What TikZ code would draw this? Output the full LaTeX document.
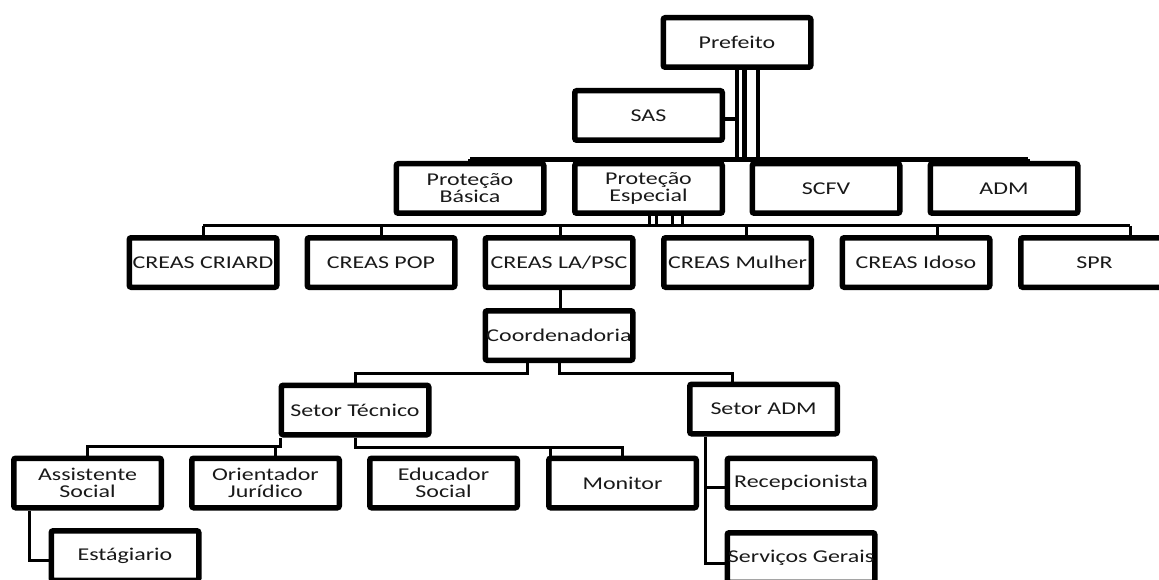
\documentclass[tikz,border=0pt]{standalone}
\usepackage{fontspec}
\setmainfont[FakeStretch=1.33]{Carlito}
\usetikzlibrary{shadows,backgrounds}
\tikzset{
  orgbox/.style={draw=black, line width=5.5pt, fill=white, rounded corners=2pt,
    minimum width=147.5pt, minimum height=49.5pt, inner sep=0pt, align=center,
    font=\fontsize{18}{17}\selectfont, text=black!90,
    drop shadow={opacity=0.18, shadow xshift=1.5pt, shadow yshift=-1.5pt}},
  link/.style={draw=black, line width=3pt},
  biglink/.style={draw=black, line width=4.5pt},
}
\begin{document}
\begin{tikzpicture}[x=1pt, y=-1pt]
\useasboundingbox (0,0) rectangle (1159,580);
% boxes
\node[orgbox] (pref) at (737,42.5) {Prefeito};
\node[orgbox] (sas) at (648.5,115.5) {SAS};
\node[orgbox] (pb) at (470,188.5) {Proteção\\Básica};
\node[orgbox] (pe) at (648.5,188.5) {Proteção\\Especial};
\node[orgbox] (scfv) at (826,188.5) {SCFV};
\node[orgbox] (adm) at (1004,188.5) {ADM};
\node[orgbox] (criard) at (203,262.5) {CREAS CRIARD};
\node[orgbox] (pop) at (381,262.5) {CREAS POP};
\node[orgbox] (la) at (559,262.5) {CREAS LA/PSC};
\node[orgbox] (mulher) at (737.5,262.5) {CREAS Mulher};
\node[orgbox] (idoso) at (916,262.5) {CREAS Idoso};
\node[orgbox] (spr) at (1094.5,262.5) {SPR};
\node[orgbox] (coord) at (559,335.5) {Coordenadoria};
\node[orgbox] (tec) at (355,410) {Setor Técnico};
\node[orgbox] (sadm) at (763.5,409) {Setor ADM};
\node[orgbox] (ass) at (87.5,483) {Assistente\\Social};
\node[orgbox] (ori) at (265.5,483) {Orientador\\Jurídico};
\node[orgbox] (edu) at (443.5,483) {Educador\\Social};
\node[orgbox] (mon) at (622.5,483) {Monitor};
\node[orgbox] (rec) at (801,483) {Recepcionista};
\node[orgbox] (serv) at (801,557.5) {Serviços Gerais};
\node[orgbox] (est) at (125,555.5) {Estágiario};
% connectors
\begin{scope}[on background layer]
  % top bus
  \coordinate (busT1) at (470,159.5);
  \coordinate (busT2) at (1028,159.5);
  \draw[biglink] (busT1) -- (busT2);
  \foreach \dx in {0,7.5,21}{
    \path ([xshift=\dx pt]pref.south) coordinate (t);
    \draw[biglink] (t) -- (t |- busT1);
  }
  \path ([yshift=-3.5pt]sas.east) coordinate (se);
  \draw[biglink] (se) -- (se -| pref.south);
  \foreach \n in {pb,pe,scfv}{
    \draw[biglink] (\n.north |- busT1) -- (\n.north);
  }
  \draw[biglink] (busT2) -- (busT2 |- adm.north);
  % middle bus
  \coordinate (busM1) at (203,226);
  \coordinate (busM2) at (1130,226);
  \draw[link] (busM1) -- (busM2);
  \foreach \dx in {0.5,7.5,23.5,33.5}{
    \path ([xshift=\dx pt]pe.south) coordinate (t);
    \draw[link] (t) -- (t |- busM1);
  }
  \draw[link] (criard.north |- busM1) -- (criard.north);
  \draw[link] (pop.north |- busM1) -- (pop.north);
  \path ([xshift=1pt]la.north) coordinate (t1);
  \draw[link] (t1 |- busM1) -- (t1);
  \path ([xshift=8.5pt]mulher.north) coordinate (t2);
  \draw[link] (t2 |- busM1) -- (t2);
  \path ([xshift=21pt]idoso.north) coordinate (t3);
  \draw[link] (t3 |- busM1) -- (t3);
  \draw[link] (busM2) -- (busM2 |- spr.north);
  % LA/PSC -> Coordenadoria
  \draw[link] ([xshift=1pt]la.south) -- ([xshift=1pt]coord.north);
  % Coordenadoria -> setores
  \coordinate (c1) at (0,373);
  \path ([xshift=-32pt]coord.south) coordinate (a);
  \draw[link] (a) -- (a |- c1) -| (tec.north);
  \draw[link] (coord.south) -- (coord.south |- c1) -| ([xshift=-31.5pt]sadm.north);
  % Setor Tecnico -> children
  \coordinate (r1) at (0,446);
  \path ([xshift=-75pt]tec.south) coordinate (b);
  \draw[link] (b) -- (b |- r1) -| (ass.north);
  \draw[link] (b |- r1) -| ([xshift=9.5pt]ori.north);
  \coordinate (r2) at (0,447.5);
  \draw[link] (tec.south) -- (tec.south |- r2) -| (mon.north);
  \path ([xshift=-72.5pt]mon.north) coordinate (m);
  \draw[link] (m |- r2) -- (m);
  % Setor ADM -> children
  \path ([xshift=-58.5pt]sadm.south) coordinate (d);
  \path ([yshift=-5.5pt]serv.west) coordinate (sw);
  \path ([yshift=-4pt]rec.west) coordinate (rw);
  \draw[link] (d) -- (d |- sw) -- (sw);
  \draw[link] (d |- rw) -- (rw);
  % Assistente Social -> Estagiario
  \path ([xshift=-58.5pt]ass.south) coordinate (e);
  \path ([yshift=-4.5pt]est.west) coordinate (ew);
  \draw[link] (e) -- (e |- ew) -- (ew);
\end{scope}
\end{tikzpicture}
\end{document}
